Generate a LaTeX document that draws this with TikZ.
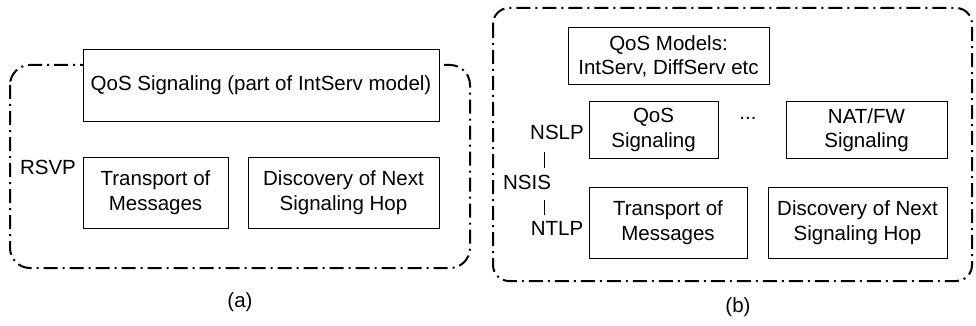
\documentclass[tikz,border=0pt]{standalone}
\usepackage{fontspec}
\setmainfont{Liberation Sans}
\begin{document}
\begin{tikzpicture}[x=1pt,y=-1pt,
  every node/.style={font=\fontsize{20.5}{24.6}\selectfont},
  layerbox/.style={draw=black, line width=1pt, fill=white, inner sep=0pt, align=center},
  tagtext/.style={inner sep=0pt},
  zonebox/.style={draw=black, line width=2pt, dash pattern=on 14pt off 5pt on 2pt off 5pt}]
\useasboundingbox (0,0) rectangle (976,326);

% (a) RSVP stack
\draw[zonebox, rounded corners=20pt] (10,65) rectangle (470,268);
\node[layerbox, minimum width=356pt, minimum height=71pt] (qosa) at (261,85.5) {QoS Signaling (part of IntServ model)};
\node[layerbox, minimum width=145pt, minimum height=71pt] (transa) at (155.5,192.5) {Transport of\\Messages};
\node[layerbox, minimum width=191pt, minimum height=71pt] (disca) at (343.5,192.5) {Discovery of Next\\Signaling Hop};
\node[tagtext] (rsvp) at (48,167) {RSVP};
\node[tagtext] (capa) at (240,302) {(a)};

% (b) NSIS stack
\draw[zonebox, rounded corners=16pt] (493,8) rectangle (972,281);
\node[layerbox, minimum width=201pt, minimum height=57pt] (models) at (668.5,56.5) {QoS Models:\\IntServ, DiffServ etc};
\node[layerbox, minimum width=129pt, minimum height=56pt] (qosb) at (653.5,130) {QoS\\Signaling};
\node[layerbox, minimum width=161pt, minimum height=56pt] (natfw) at (866.5,130) {NAT/FW\\Signaling};
\node[tagtext, anchor=base] (dots) at (748,120) {...};
\node[layerbox, minimum width=158pt, minimum height=71pt] (transb) at (668,222.5) {Transport of\\Messages};
\node[layerbox, minimum width=179pt, minimum height=71pt] (discb) at (857.5,222.5) {Discovery of Next\\Signaling Hop};
\node[tagtext] (nslp) at (557,132) {NSLP};
\node[tagtext] (nsis) at (527,182) {NSIS};
\node[tagtext] (ntlp) at (557,228) {NTLP};
\coordinate (l1a) at (544,152);
\coordinate (l1b) at (544,168);
\coordinate (l2a) at (544,200);
\coordinate (l2b) at (544,215);
\draw[line width=1pt] (l1a) -- (l1b);
\draw[line width=1pt] (l2a) -- (l2b);
\node[tagtext] (capb) at (738,307) {(b)};
\end{tikzpicture}
\end{document}
